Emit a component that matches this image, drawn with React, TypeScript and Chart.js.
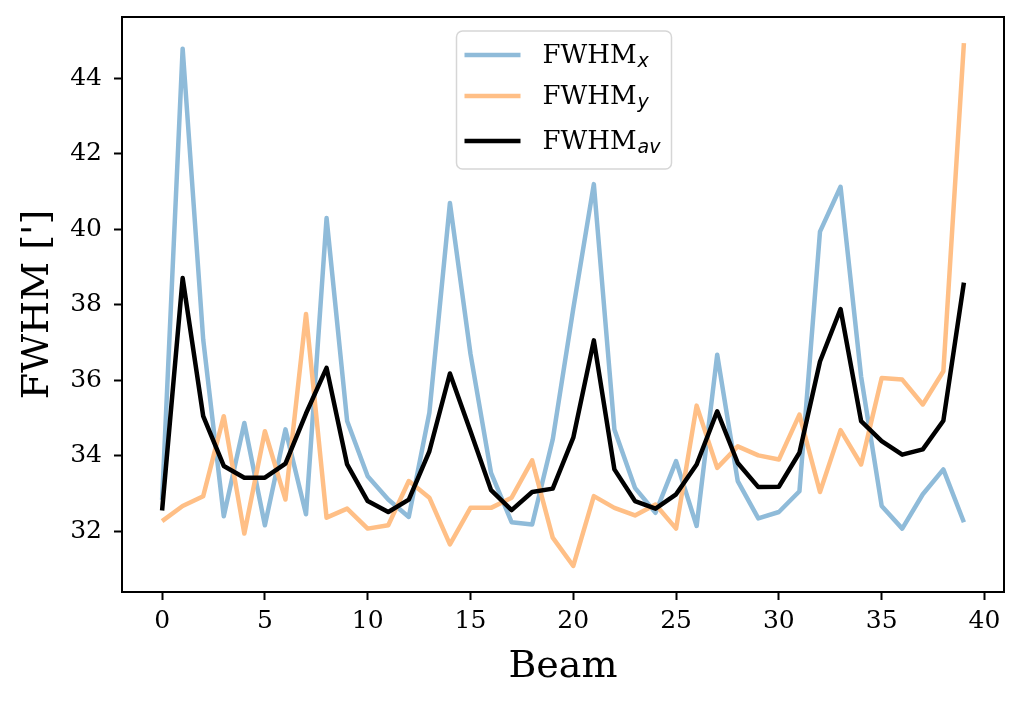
import { useRef, useEffect } from "react"
import { Chart, type ChartConfiguration, type Plugin, registerables } from "chart.js"

Chart.register(...registerables)

const beams = [
  0, 1, 2, 3, 4, 5, 6, 7, 8, 9, 10, 11, 12, 13, 14, 15, 16, 17, 18, 19,
  20, 21, 22, 23, 24, 25, 26, 27, 28, 29, 30, 31, 32, 33, 34, 35, 36, 37, 38, 39,
]

const fwhmX = [
  32.83, 44.79, 37.08, 32.4, 34.87, 32.16, 34.7, 32.45, 40.3, 34.92,
  33.46, 32.84, 32.38, 35.14, 40.7, 36.7, 33.55, 32.24, 32.18, 34.43,
  37.9, 41.2, 34.7, 33.15, 32.49, 33.86, 32.14, 36.68, 33.33, 32.34,
  32.51, 33.06, 39.94, 41.13, 36.1, 32.67, 32.07, 32.98, 33.64, 32.24,
]

const fwhmY = [
  32.27, 32.67, 32.93, 35.05, 31.94, 34.65, 32.84, 37.76, 32.36, 32.6,
  32.07, 32.16, 33.33, 32.89, 31.65, 32.62, 32.62, 32.89, 33.88, 31.83,
  31.08, 32.93, 32.62, 32.42, 32.71, 32.07, 35.33, 33.68, 34.25, 34.01,
  33.9, 35.09, 33.04, 34.68, 33.77, 36.06, 36.02, 35.36, 36.24, 44.94,
]

const fwhmAv = [
  32.55, 38.71, 35.05, 33.73, 33.42, 33.42, 33.79, 35.12, 36.33, 33.77,
  32.8, 32.51, 32.84, 34.12, 36.18, 34.65, 33.09, 32.56, 33.04, 33.13,
  34.48, 37.06, 33.64, 32.8, 32.6, 32.98, 33.77, 35.18, 33.81, 33.17,
  33.18, 34.08, 36.5, 37.89, 34.92, 34.39, 34.03, 34.17, 34.93, 38.59,
]

const seriesNames = ["FWHM", "FWHM", "FWHM"]
const seriesSubs = ["x", "y", "av"]
const seriesColors = ["#8fbbd9", "#ffbf86", "#000000"]

const xTitle = "Beam"
const yTitle = "FWHM [']"

const SERIF = "'DejaVu Serif', serif"

// black frame around the plot area, like matplotlib spines
const framePlugin: Plugin = {
  id: "frame",
  afterDraw(chart) {
    const { ctx, chartArea } = chart
    ctx.save()
    ctx.strokeStyle = "#000"
    ctx.lineWidth = 2
    ctx.strokeRect(chartArea.left, chartArea.top, chartArea.right - chartArea.left, chartArea.bottom - chartArea.top)
    ctx.restore()
  },
}

// legend with subscripts, "upper center"
const legendPlugin: Plugin = {
  id: "subLegend",
  afterDraw(chart) {
    const { ctx, chartArea } = chart
    const w = 215
    const h = 138
    const left = (chartArea.left + chartArea.right) / 2 - w / 2 + 1
    const top = chartArea.top + 14
    const rows = [24, 65, 110]

    ctx.save()
    ctx.beginPath()
    ctx.roundRect(left, top, w, h, 6)
    ctx.fillStyle = "rgba(255,255,255,0.8)"
    ctx.fill()
    ctx.strokeStyle = "#d6d6d6"
    ctx.lineWidth = 1.5
    ctx.stroke()

    chart.data.datasets.forEach((ds, i) => {
      const y = top + rows[i]
      ctx.beginPath()
      ctx.moveTo(left + 8, y)
      ctx.lineTo(left + 64, y)
      ctx.strokeStyle = ds.borderColor as string
      ctx.lineWidth = 4.5
      ctx.stroke()

      ctx.fillStyle = "#000"
      ctx.textBaseline = "alphabetic"
      ctx.textAlign = "left"
      ctx.font = `26px ${SERIF}`
      const main = seriesNames[i]
      ctx.fillText(main, left + 86, y + 8)
      const mw = ctx.measureText(main).width
      ctx.font = "italic 19px 'DejaVu Sans', sans-serif"
      ctx.fillText(seriesSubs[i], left + 86 + mw + 1, y + 12)
    })
    ctx.restore()
  },
}

function FwhmChart() {
  const canvasRef = useRef<HTMLCanvasElement>(null)
  const chartRef = useRef<Chart | null>(null)

  useEffect(() => {
    if (!canvasRef.current) return
    if (chartRef.current) chartRef.current.destroy()

    const series = [fwhmX, fwhmY, fwhmAv]

    const config: ChartConfiguration = {
      type: "line",
      data: {
        datasets: series.map((vals, i) => ({
          label: seriesNames[i] + seriesSubs[i],
          data: beams.map((b, j) => ({ x: b, y: vals[j] })),
          borderColor: seriesColors[i],
          backgroundColor: seriesColors[i],
          borderWidth: 4.5,
          pointRadius: 0,
          tension: 0,
          borderJoinStyle: "round",
          order: 2 - i,
        })),
      },
      options: {
        animation: false,
        responsive: true,
        maintainAspectRatio: false,
        layout: { padding: { top: 17, right: 20, left: 0, bottom: 0 } },
        plugins: {
          legend: { display: false },
          tooltip: { enabled: false },
        },
        scales: {
          x: {
            type: "linear",
            min: -1.95,
            max: 40.95,
            afterFit: (scale) => {
              scale.height = 114
            },
            border: { display: false },
            grid: {
              display: true,
              drawOnChartArea: false,
              drawTicks: true,
              tickLength: 8,
              tickWidth: 2,
              tickColor: "#000",
            },
            ticks: {
              stepSize: 5,
              includeBounds: false,
              color: "#000",
              padding: 6,
              maxRotation: 0,
              font: { family: SERIF, size: 25 },
            },
            title: {
              display: true,
              text: xTitle,
              color: "#000",
              padding: { top: 0, bottom: 16 },
              font: { family: SERIF, size: 38 },
            },
          },
          y: {
            type: "linear",
            min: 30.39,
            max: 45.63,
            afterFit: (scale) => {
              scale.width = 122
              scale.paddingTop = 0
              scale.paddingBottom = 0
            },
            border: { display: false },
            grid: {
              display: true,
              drawOnChartArea: false,
              drawTicks: true,
              tickLength: 8,
              tickWidth: 2,
              tickColor: "#000",
            },
            ticks: {
              stepSize: 2,
              includeBounds: false,
              color: "#000",
              padding: 12,
              font: { family: SERIF, size: 25 },
            },
            title: {
              display: true,
              text: yTitle,
              color: "#000",
              padding: { top: 15, bottom: 0 },
              font: { family: SERIF, size: 38 },
            },
          },
        },
      },
      plugins: [framePlugin, legendPlugin],
    }

    chartRef.current = new Chart(canvasRef.current, config)

    return () => {
      if (chartRef.current) {
        chartRef.current.destroy()
        chartRef.current = null
      }
    }
  }, [])

  return (
    <div style={{ position: "fixed", left: 0, top: 0, width: "1024px", height: "706px", background: "#fff" }}>
      <canvas ref={canvasRef} />
    </div>
  )
}

export default function App() {
  return <FwhmChart />
}
